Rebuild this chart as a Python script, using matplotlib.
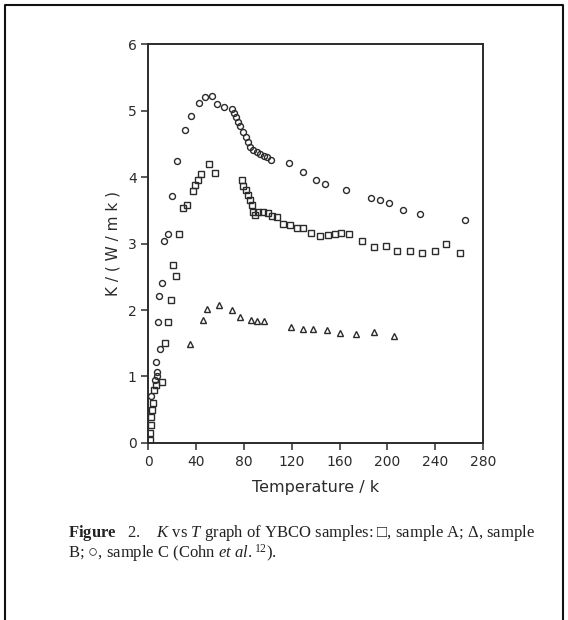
import matplotlib
matplotlib.use("Agg")
import matplotlib.pyplot as plt
from matplotlib.lines import Line2D

# sample A (squares)
t_a = [1.3, 1.5, 2.0, 2.5, 3.0, 3.5, 4.6, 6.3, 11.0, 13.8, 16.6, 18.5, 20.2, 23.0, 25.8,
       28.6, 32.0, 37.0, 38.9, 41.6, 43.9, 50.8, 55.6,
       78.0, 79.3, 81.5, 83.5, 85.0, 86.3, 87.6, 89.0, 91.8, 96.0, 100.0, 103.0, 107.2,
       112.7, 118.3, 124.0, 129.5, 136.4, 143.4, 150.3, 156.0, 161.5, 168.0,
       178.3, 188.8, 199.0, 208.0, 218.6, 229.0, 239.8, 248.7, 260.4]
k_a = [0.05, 0.15, 0.27, 0.39, 0.50, 0.60, 0.80, 0.87, 0.92, 1.50, 1.82, 2.15, 2.68, 2.51, 3.15,
       3.53, 3.58, 3.79, 3.88, 3.96, 4.05, 4.20, 4.06,
       3.95, 3.86, 3.80, 3.73, 3.65, 3.58, 3.48, 3.43, 3.48, 3.48, 3.46, 3.41, 3.40,
       3.30, 3.28, 3.24, 3.23, 3.16, 3.11, 3.13, 3.14, 3.16, 3.15,
       3.04, 2.94, 2.96, 2.88, 2.89, 2.85, 2.88, 3.00, 2.85]

# sample B (triangles)
t_b = [34.7, 45.3, 49.2, 59.2, 69.5, 76.5, 85.4, 91.0, 96.8, 119.7, 129.5, 137.8,
       149.5, 160.7, 174.0, 188.5, 205.5]
k_b = [1.49, 1.85, 2.02, 2.07, 2.00, 1.90, 1.85, 1.83, 1.83, 1.74, 1.71, 1.72,
       1.70, 1.66, 1.64, 1.67, 1.61]

# sample C (circles)
t_c = [2.5, 5.4, 7.0, 6.0, 6.9, 9.6, 7.7, 9.0, 11.0, 13.2, 16.6, 19.4, 24.0, 30.5, 35.3,
       42.2, 47.2, 52.8, 57.0, 63.4, 70.0, 71.5, 73.0, 75.0, 77.0, 79.5, 81.5, 83.5,
       85.0, 87.5, 90.5, 93.5, 96.5, 99.5, 102.5, 117.7, 129.0, 140.5, 148.0, 165.0,
       186.6, 194.0, 201.0, 213.0, 227.0, 264.6]
k_c = [0.70, 0.95, 1.07, 1.22, 1.00, 1.42, 1.82, 2.21, 2.40, 3.04, 3.15, 3.72, 4.24, 4.71, 4.91,
       5.12, 5.21, 5.22, 5.10, 5.05, 5.02, 4.96, 4.90, 4.82, 4.76, 4.68, 4.60, 4.53,
       4.45, 4.40, 4.37, 4.35, 4.32, 4.30, 4.26, 4.21, 4.07, 3.96, 3.89, 3.80,
       3.69, 3.65, 3.61, 3.51, 3.45, 3.36]

x_ticks = [0, 40, 80, 120, 160, 200, 240, 280]
y_ticks = [0, 1, 2, 3, 4, 5, 6]

ink = "#2b2b2b"

plt.rcParams["mathtext.fontset"] = "custom"
plt.rcParams["mathtext.rm"] = "Liberation Serif"
plt.rcParams["mathtext.it"] = "Liberation Serif:italic"
plt.rcParams["mathtext.bf"] = "Liberation Serif:bold"

fig = plt.figure(figsize=(5.68, 6.2), dpi=100)
ax = fig.add_axes([0.2614, 0.2855, 0.589, 0.6435])

mk = dict(linestyle="none", markerfacecolor="none", markeredgecolor=ink,
          markeredgewidth=1.0, markersize=4.3)
ax.plot(t_a, k_a, marker="s", **mk)
ax.plot(t_b, k_b, marker="^", **mk)
ax.plot(t_c, k_c, marker="o", **mk)

ax.set_xlim(0, 280)
ax.set_ylim(0, 6)
ax.set_xticks(x_ticks)
ax.set_yticks(y_ticks)
ax.tick_params(direction="out", length=5, width=1.1, colors=ink, labelsize=10)
for s in ax.spines.values():
    s.set_linewidth(1.4)
    s.set_color(ink)

ax.set_xlabel("Temperature / k", fontsize=11.5, color=ink, labelpad=8)
ax.set_ylabel("K / ( W / m k )", fontsize=11, color=ink, labelpad=5)

cap1 = (r"$\mathbf{Figure}$   2.    $\mathit{K}$ vs $\mathit{T}$ graph of YBCO samples: "
        "\u25a1, sample A; \u0394, sample")
cap2 = "B; \u25cb, sample C (Cohn " + r"$\mathit{et\ al.}^{12}$" + ")."
fam = ["Liberation Serif", "DejaVu Serif"]
fig.text(68 / 568, 1 - 533 / 620, cap1, fontsize=12, family=fam, color="#222222", va="center")
fig.text(68 / 568, 1 - 553 / 620, cap2, fontsize=12, family=fam, color="#222222", va="center")

# page border (left, top, right)
bl, br, bt = 4.5 / 568, 563 / 568, 1 - 4.5 / 620
fig.add_artist(Line2D([bl, bl, br, br], [0, bt, bt, 0], transform=fig.transFigure,
                      color="#111111", linewidth=1.5))

fig.savefig("out.png", dpi=100)
